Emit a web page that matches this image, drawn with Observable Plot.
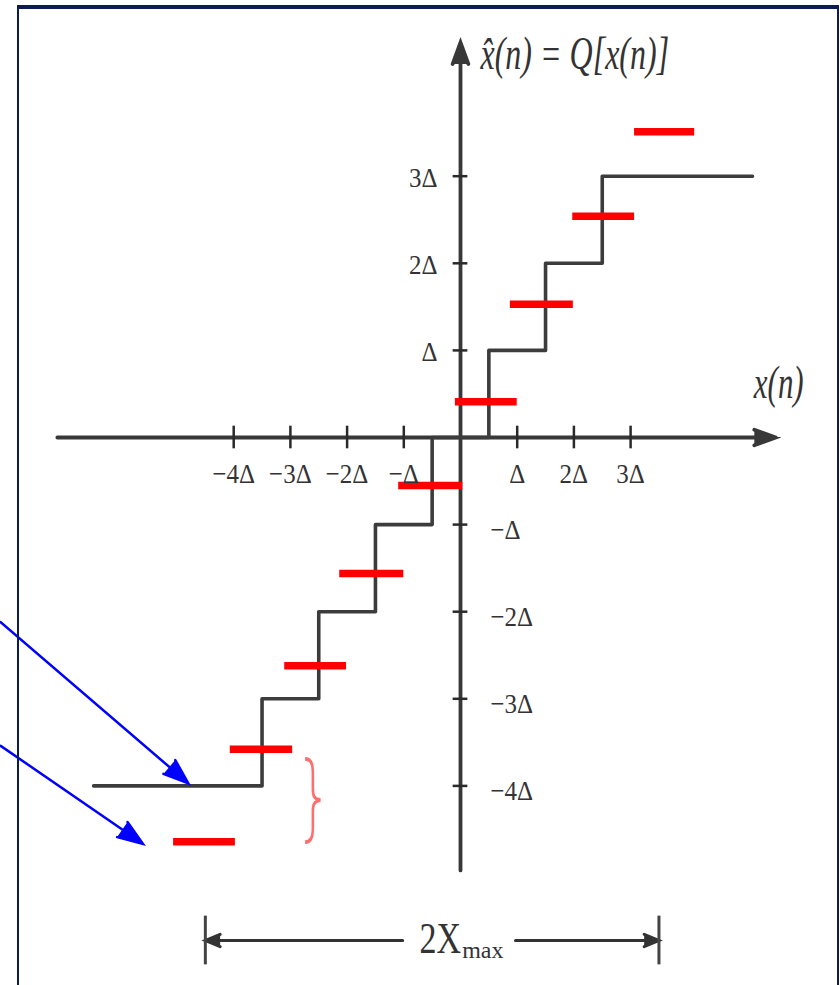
<!DOCTYPE html>
<html>
<head>
<meta charset="utf-8">
<script src="https://cdn.jsdelivr.net/npm/d3@7"></script>
<script src="https://cdn.jsdelivr.net/npm/@observablehq/plot@0.6"></script>
<style>
  html, body { margin: 0; padding: 0; background: #fff; }
  #wrap { position: relative; width: 840px; height: 985px; overflow: hidden; background: #fff; }
  #wrap svg { display: block; }
  #frame { position: absolute; left: 17px; top: 5px; width: 822px; height: 1000px; box-sizing: border-box;
           border-left: 2px solid #0b1b58; border-top: 4px solid #0b1b58; border-right: 2.5px solid #0b1b58;
           pointer-events: none; }
</style>
</head>
<body>
<div id="wrap"><div id="frame"></div></div>
<script>
// ---- data (in units of Δ) ----
const xTicks = [-4, -3, -2, -1, 1, 2, 3];
const xTickLabels = ["−4Δ", "−3Δ", "−2Δ", "−Δ", "Δ", "2Δ", "3Δ"];
const yTicks = [3, 2, 1, -1, -2, -3, -4];
const yTickLabels = ["3Δ", "2Δ", "Δ", "−Δ", "−2Δ", "−3Δ", "−4Δ"];

// quantizer staircase: step start (x) and output level
const stairX = [-6.47, -3.5, -2.5, -1.5, -0.5, 0.5, 1.5, 2.5, 5.15];
const stairY = [-4, -3, -2, -1, 0, 1, 2, 3, 3];

// red reconstruction-level bars
const redLevel = [3.51, 2.54, 1.53, 0.41, -0.55, -1.56, -2.62, -3.58, -4.64];
const redX1 = [3.07, 1.98, 0.88, -0.09, -1.09, -2.13, -3.10, -4.06, -5.06];
const redX2 = [4.13, 3.07, 1.99, 1.00, 0.04, -1.00, -2.01, -2.96, -3.97];

// axis extents
const xAxisFrom = -7.11, xAxisTo = 5.56;
const yAxisFrom = -4.97, yAxisTo = 4.535;

// blue pointer arrows (start -> tip)
const pointerX1 = [-8.11, -8.11];
const pointerY1 = [-2.12, -3.54];
const pointerX2 = [-4.80, -5.60];
const pointerY2 = [-3.97, -4.665];

// 2Xmax span
const spanFrom = -4.5, spanTo = 3.5, spanY = -5.775;
const spanGapLeft = -1.02, spanGapRight = 0.97;

// brace position
const braceX = -2.60, braceY = -4.17;

// labels
const titleLabel = "x̂(n) = Q[x(n)]";
const xAxisLabel = "x(n)";
const spanLabel = "2X";
const spanSub = "max";

// ---- derived tables ----
const stair = stairX.map((v, i) => ({x: v, y: stairY[i]}));
const red = redLevel.map((v, i) => ({y: v, x1: redX1[i], x2: redX2[i]}));
const xt = xTicks.map((v, i) => ({v, label: xTickLabels[i]}));
const yt = yTicks.map((v, i) => ({v, label: yTickLabels[i]}));
const axes = [
  {x1: xAxisFrom, y1: 0, x2: xAxisTo, y2: 0},
  {x1: 0, y1: yAxisFrom, x2: 0, y2: yAxisTo}
];
const pointers = pointerX1.map((v, i) => ({x1: v, y1: pointerY1[i], x2: pointerX2[i], y2: pointerY2[i]}));
const spanArrows = [
  {x1: spanGapLeft, x2: spanFrom, y: spanY},
  {x1: spanGapRight, x2: spanTo, y: spanY}
];
const spanEnds = [spanFrom, spanTo];
const spanMid = (spanFrom + spanTo) / 2;

const serif = "'Liberation Serif', 'DejaVu Serif', serif";
const ink = "#383838";

const chart = Plot.plot({
  width: 840,
  height: 985,
  margin: 0,
  x: {domain: [-460 / 56.7, 380 / 56.7], axis: null},
  y: {domain: [-(985 - 437) / 87.1, 437 / 87.1], axis: null},
  style: {background: "white", overflow: "visible"},
  marks: [
    // axes
    Plot.arrow(axes, {x1: "x1", y1: "y1", x2: "x2", y2: "y2", stroke: ink, fill: ink,
      strokeWidth: 3.8, headAngle: 40, headLength: 9, strokeMiterlimit: 10}),
    Plot.ruleX(xt, {x: "v", y1: -0.13, y2: 0.13, stroke: "#2a2a2a", strokeWidth: 2.5}),
    Plot.ruleY(yt, {y: "v", x1: -0.13, x2: 0.13, stroke: "#2a2a2a", strokeWidth: 2.5}),
    // staircase
    Plot.line(stair, {x: "x", y: "y", curve: "step-after", stroke: "#3c3c3c", strokeWidth: 3.6}),
    // red levels
    Plot.ruleY(red, {y: "y", x1: "x1", x2: "x2", stroke: "#ff0000", strokeWidth: 7.5}),
    // tick labels
    Plot.text(xt, {x: "v", y: 0, text: "label", dy: 37, fontSize: 25, fontFamily: serif, fill: "#333"}),
    Plot.text(yt.filter(d => d.v > 0), {x: 0, y: "v", text: "label", dx: -23, dy: 2, textAnchor: "end", fontSize: 25, fontFamily: serif, fill: "#333"}),
    Plot.text(yt.filter(d => d.v < 0), {x: 0, y: "v", text: "label", dx: 30, dy: 5, textAnchor: "start", fontSize: 25, fontFamily: serif, fill: "#333"}),
    // title and axis label
    Plot.text([titleLabel], {x: 0, y: yAxisTo, text: d => d, dx: 20, dy: 12, textAnchor: "start", fontSize: 32, fontStyle: "italic", fontFamily: serif, fill: "#333"}),
    Plot.text([xAxisLabel], {x: xAxisTo, y: 0, text: d => d, dx: 3, dy: -54, fontSize: 31, fontStyle: "italic", fontFamily: serif, fill: "#333"}),
    // 2Xmax
    Plot.arrow(spanArrows, {x1: "x1", x2: "x2", y1: "y", y2: "y", stroke: "#333", fill: "#333",
      strokeWidth: 3, headAngle: 45, headLength: 8, strokeMiterlimit: 10}),
    Plot.ruleX(spanEnds, {x: d => d, y1: spanY - 0.28, y2: spanY + 0.28, stroke: "#444", strokeWidth: 3}),
    Plot.text([spanLabel], {x: spanMid, y: spanY, text: d => d, dx: 29, dy: -2, textAnchor: "end", fontSize: 34, fontFamily: serif, fill: "#333"}),
    Plot.text([spanSub], {x: spanMid, y: spanY, text: d => d, dx: 30, dy: 10, textAnchor: "start", fontSize: 24, fontFamily: serif, fill: "#333"}),
    // blue pointers
    Plot.arrow(pointers, {x1: "x1", y1: "y1", x2: "x2", y2: "y2", stroke: "#0000ff", fill: "#0000ff",
      strokeWidth: 2.5, headAngle: 40, headLength: 16, strokeMiterlimit: 10}),
    // brace
    Plot.text(["}"], {x: braceX, y: braceY, text: d => d, fontSize: 32, fontWeight: 200, fontFamily: "Inter, 'DejaVu Sans', sans-serif", fill: "#ff6f6f"})
  ]
});

// vertical stretch of some labels (the scanned original is taller than wide)
function scaleTexts(match, sx, sy) {
  chart.querySelectorAll("text").forEach(t => {
    if (!match(t.textContent)) return;
    const tr = t.getAttribute("transform") || "";
    t.setAttribute("transform", `${tr} scale(${sx},${sy})`);
  });
}
scaleTexts(s => xTickLabels.includes(s) || yTickLabels.includes(s), 1, 1.12);
scaleTexts(s => s === titleLabel, 1, 1.45);
scaleTexts(s => s === xAxisLabel, 1, 1.5);
scaleTexts(s => s === spanLabel, 1, 1.3);
scaleTexts(s => s === "}", 1.9, 3.0);

document.getElementById("wrap").prepend(chart);
</script>
</body>
</html>
